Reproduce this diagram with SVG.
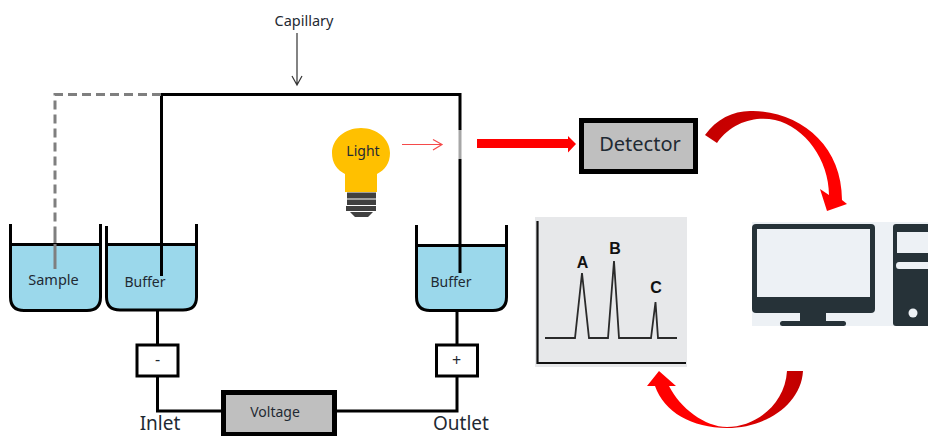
<svg xmlns="http://www.w3.org/2000/svg" width="928" height="436" viewBox="0 0 928 436">
<style>
text{font-family:"Noto Sans","Open Sans","Liberation Sans",sans-serif;fill:#1f2a33;text-anchor:middle}
.s{font-size:14px}
.w{fill:none;stroke:#000;stroke-width:3}
.beaker{fill:none;stroke:#000;stroke-width:3}
.liquid{fill:#9bd8eb}
.box{fill:#fff;stroke:#000;stroke-width:3}
.grey{fill:#bfbfbf;stroke:#000}
.dark{fill:#263238}
.pk{font:bold 16px "Liberation Sans",sans-serif;fill:#111}
</style>
<defs>
<linearGradient id="g1" x1="0" y1="0" x2="1" y2="0.4"><stop offset="0" stop-color="#c00000"/><stop offset="0.55" stop-color="#d80000"/><stop offset="0.8" stop-color="#ff0000"/></linearGradient>
<linearGradient id="g2" x1="1" y1="0" x2="0" y2="0"><stop offset="0" stop-color="#c00000"/><stop offset="0.45" stop-color="#e00000"/><stop offset="0.6" stop-color="#ff0000"/></linearGradient>
</defs>

<g id="connectors">
<path d="M161.5 276V94.500H460V130M460 159V273" class="w"/>
<rect x="458.500" y="130" width="3" height="29" fill="#a6a6a6"/>
<path d="M161 94.500H55V228" fill="none" stroke="#7f7f7f" stroke-width="3" stroke-dasharray="9 5"/>
<path d="M55 228V269" fill="none" stroke="#7f7f7f" stroke-width="3"/>
<path d="M157.500 311V344M157.500 376V411H222M335 411H457V376M457 344V311" class="w"/>
<path d="M297 33V85M292 76L297 85L302 76" fill="none" stroke="#333" stroke-width="1.200"/>
<path d="M402 144.500H442M433 139.500L442 144.500L433 150" fill="none" stroke="#f54a4a" stroke-width="1.200"/>
<path d="M477 139H568V136L576 144L568 152.500V148H477Z" fill="#f00"/>
<path d="M705 135C717 118 735 110 753 111C800 112 842 145 842 200L847 204L827 211L820 189L829 195C829 160 805 127 775 120C755 116 732 122 717 143Z" fill="url(#g1)"/>
<path d="M787 371H803C801 405 765 428 727 428C692 428 664 412 655 386H647L659 371L676 386H669C680 408 705 427 727 427C755 427 785 405 787 371Z" fill="url(#g2)"/>
</g>

<text x="304" y="26" font-size="14.500">Capillary</text>

<g id="sample">
<path d="M11 244H100V297Q100 310 87 310H24Q11 310 11 297Z" class="liquid"/>
<path d="M10.500 224V297Q10.500 310.500 24 310.500H87Q100.500 310.500 100.500 297V224M10.500 244.500H100.500" class="beaker"/>
<path d="M55 244V269" stroke="#7f7f7f" stroke-width="3"/>
<text x="53.500" y="285" font-size="14.500">Sample</text>
</g>

<g id="buffer-inlet">
<path d="M107 244H196V297Q196 310 183 310H120Q107 310 107 297Z" class="liquid"/>
<path d="M106.500 226V297Q106.500 310 120 310H183Q196.500 310 196.500 297V224M106.500 244.500H196.500" class="beaker"/>
<path d="M161.500 244V276" stroke="#000" stroke-width="3"/>
<text x="145" y="287" class="s">Buffer</text>
</g>

<g id="buffer-outlet">
<path d="M417 245H506V297Q506 310 493 310H430Q417 310 417 297Z" class="liquid"/>
<path d="M416.500 225V297Q416.500 310.500 430 310.500H493Q506.500 310.500 506.500 297V225M416.500 245.500H506.500" class="beaker"/>
<path d="M460 245V273" stroke="#000" stroke-width="3"/>
<text x="451" y="287" class="s">Buffer</text>
</g>

<g id="minus"><rect x="137" y="345" width="41" height="31" class="box"/><text x="157.500" y="365" font-size="16">-</text></g>
<g id="plus"><rect x="436.500" y="345" width="41" height="31" class="box"/><text x="456.500" y="366" font-size="16">+</text></g>
<g id="voltage"><rect x="223.500" y="392.500" width="111" height="42" class="grey" stroke-width="5"/><text x="275" y="417" class="s">Voltage</text></g>
<text x="160" y="430" font-size="19">Inlet</text>
<text x="461" y="430" font-size="19">Outlet</text>

<g id="light">
<path d="M361 128C377 128 390 139 390 153C390 163 385 170 377 174V192H345V174C337 170 332 163 332 153C332 139 345 128 361 128Z" fill="#ffc000"/>
<path d="M347 192.500H376V198.500H347ZM347 199.500H376V205H347ZM346 206H376V211H346ZM350 212H373L368 217H355Z" fill="#404040"/>
<text x="363" y="156" class="s">Light</text>
</g>

<g id="detector"><rect x="581.500" y="120.500" width="114" height="51" fill="#bfbfbf" stroke="#000" stroke-width="5"/><text x="640" y="151" font-size="20">Detector</text></g>

<g id="chart">
<rect x="535" y="217" width="152" height="150" fill="#e7e8ea"/>
<path d="M537.500 221V363H686" fill="none" stroke="#111" stroke-width="2.200"/>
<path d="M545 338H575L582 273L589 338H608L614 261L619 338H651L655.500 302L658 338H677" fill="none" stroke="#2a2a2a" stroke-width="1.800"/>
<text x="582.500" y="268" class="pk">A</text>
<text x="615" y="254" class="pk">B</text>
<text x="656" y="293" class="pk">C</text>
</g>

<g id="computer">
<rect x="752" y="222" width="176" height="104" fill="#edf1f5"/>
<rect x="752" y="224" width="123" height="89" rx="4" class="dark"/>
<rect x="757" y="229" width="113" height="68" fill="#edf1f5"/>
<rect x="800" y="312" width="26" height="10" class="dark"/>
<rect x="780" y="321" width="66" height="5" rx="2.500" class="dark"/>
<path d="M896 224H928V326H896Q893 326 893 323V227Q893 224 896 224Z" class="dark"/>
<rect x="897" y="232" width="31" height="21" fill="#edf1f5"/>
<path d="M899 262H928V269H899Q896 269 896 265.500Q896 262 899 262Z" fill="#edf1f5"/>
<circle cx="913" cy="313" r="4.500" fill="#edf1f5"/>
</g>
</svg>
